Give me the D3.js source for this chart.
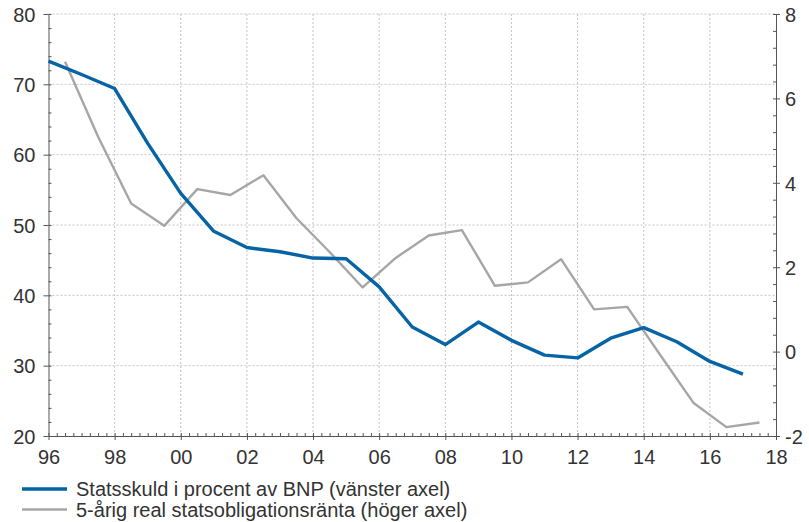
<!DOCTYPE html>
<html>
<head>
<meta charset="utf-8">
<script src="https://cdn.jsdelivr.net/npm/d3@7"></script>
<style>
  body { margin: 0; background: #fff; }
  svg { display: block; font-family: "Liberation Sans", Arial, sans-serif; }
</style>
</head>
<body>
<svg width="809" height="522"></svg>
<script>
// statsskuld, % av BNP (vanster axel), helar
var debtYears = [1996,1997,1998,1999,2000,2001,2002,2003,2004,2005,2006,2007,2008,2009,2010,2011,2012,2013,2014,2015,2016,2017];
var debtValues = [73.3,71.4,69.4,61.6,54.5,49.1,46.8,46.2,45.3,45.2,41.2,35.5,33.0,36.2,33.6,31.5,31.1,33.9,35.4,33.4,30.6,28.8];

// 5-arig real statsobligationsranta (hoger axel), mitt pa aret
var rateYears = [1996.5,1997.5,1998.5,1999.5,2000.5,2001.5,2002.5,2003.5,2004.5,2005.5,2006.5,2007.5,2008.5,2009.5,2010.5,2011.5,2012.5,2013.5,2014.5,2015.5,2016.5,2017.5];
var rateValues = [6.87,5.09,3.51,2.98,3.85,3.71,4.18,3.16,2.36,1.52,2.22,2.75,2.88,1.56,1.64,2.19,1.0,1.06,-0.08,-1.21,-1.79,-1.68];

var leftTicks = [20,30,40,50,60,70,80];
var rightTicks = [-2,0,2,4,6,8];
var yearTicks = [1996,1998,2000,2002,2004,2006,2008,2010,2012,2014,2016,2018];

var legendLabels = ["Statsskuld i procent av BNP (vänster axel)", "5-årig real statsobligationsränta (höger axel)"];
var blue = "#0563a6", grey = "#a6a6a6", ink = "#333";
var fontSize = '20px';

var svg = d3.select('svg');
var plotL = 48.5, plotR = 776, plotT = 14, plotB = 436;

var x = d3.scaleLinear().domain([1996, 2018]).range([plotL, plotR]);
var yL = d3.scaleLinear().domain([20, 80]).range([plotB, plotT]);
var yR = d3.scaleLinear().domain([-2, 8]).range([plotB, plotT]);

// grid
var grid = svg.append('g').attr('class','grid')
  .attr('stroke','#c4c4c4').attr('stroke-width',1).attr('stroke-dasharray','2,2');
grid.selectAll('line.h')
  .data(leftTicks.filter(function(d){ return d > 20; }))
  .enter().append('line')
  .attr('x1', plotL).attr('x2', plotR)
  .attr('y1', function(d){ return yL(d); })
  .attr('y2', function(d){ return yL(d); });
grid.selectAll('line.v')
  .data(yearTicks.filter(function(d){ return d > 1996 && d < 2018; }))
  .enter().append('line')
  .attr('y1', plotT).attr('y2', plotB)
  .attr('x1', function(d){ return x(d); })
  .attr('x2', function(d){ return x(d); });

// minor ticks (inward)
var minorX = d3.range(1996, 2018.01, 0.25);
var minorL = d3.range(20, 80.01, 2);
var minorR = d3.range(-2, 8.01, 0.4);

var axisG = svg.append('g').attr('class','axes');

axisG.append('g').attr('transform','translate(0,'+plotB+')')
  .call(d3.axisBottom(x).tickValues(minorX).tickSize(-3).tickFormat(''))
  .call(function(g){ g.select('.domain').remove(); });
axisG.append('g').attr('transform','translate('+plotL+',0)')
  .call(d3.axisLeft(yL).tickValues(minorL).tickSize(-3).tickFormat(''))
  .call(function(g){ g.select('.domain').remove(); });
axisG.append('g').attr('transform','translate('+plotR+',0)')
  .call(d3.axisRight(yR).tickValues(minorR).tickSize(-3).tickFormat(''))
  .call(function(g){ g.select('.domain').remove(); });

// major axes
var xAxis = axisG.append('g').attr('transform','translate(0,'+plotB+')')
  .call(d3.axisBottom(x).tickValues(yearTicks).tickSize(4).tickSizeOuter(0).tickPadding(10)
    .tickFormat(function(d){ return d3.format('02')(d % 100); }));
var lAxis = axisG.append('g').attr('transform','translate('+plotL+',0)')
  .call(d3.axisLeft(yL).tickValues(leftTicks).tickSize(5).tickSizeOuter(0).tickPadding(8));
var rAxis = axisG.append('g').attr('transform','translate('+plotR+',0)')
  .call(d3.axisRight(yR).tickValues(rightTicks).tickSize(4).tickSizeOuter(0).tickPadding(5)
    .tickFormat(function(d){ return String(d); }));

axisG.selectAll('.domain, .tick line').attr('stroke','#555').attr('stroke-width',1);
axisG.selectAll('.tick text').attr('fill', ink).style('font-size', fontSize)
  .style('font-family','"Liberation Sans", Arial, sans-serif');
lAxis.selectAll('.tick text').attr('dy','0.36em');
rAxis.selectAll('.tick text').attr('dy','0.36em');

// lines
var debtLine = d3.line()
  .x(function(d,i){ return x(debtYears[i]); })
  .y(function(d){ return yL(d); });
var rateLine = d3.line()
  .x(function(d,i){ return x(rateYears[i]); })
  .y(function(d){ return yR(d); });

svg.append('path').datum(rateValues)
  .attr('d', rateLine).attr('fill','none')
  .attr('stroke', grey).attr('stroke-width',2.4).attr('stroke-linejoin','round');
svg.append('path').datum(debtValues)
  .attr('d', debtLine).attr('fill','none')
  .attr('stroke', blue).attr('stroke-width',3.4).attr('stroke-linejoin','round');

// legend
var legend = svg.append('g').attr('class','legend');
var legendColors = [blue, grey], legendWidths = [3.4, 2.4];
legendLabels.forEach(function(label, i){
  var ly = 489 + i * 20.5;
  legend.append('line')
    .attr('x1', 22).attr('x2', 67).attr('y1', ly).attr('y2', ly)
    .attr('stroke', legendColors[i]).attr('stroke-width', legendWidths[i]);
  legend.append('text')
    .attr('x', 76).attr('y', ly).attr('dy','0.36em')
    .attr('fill', ink).style('font-size', fontSize)
    .text(label);
});
</script>
</body>
</html>
